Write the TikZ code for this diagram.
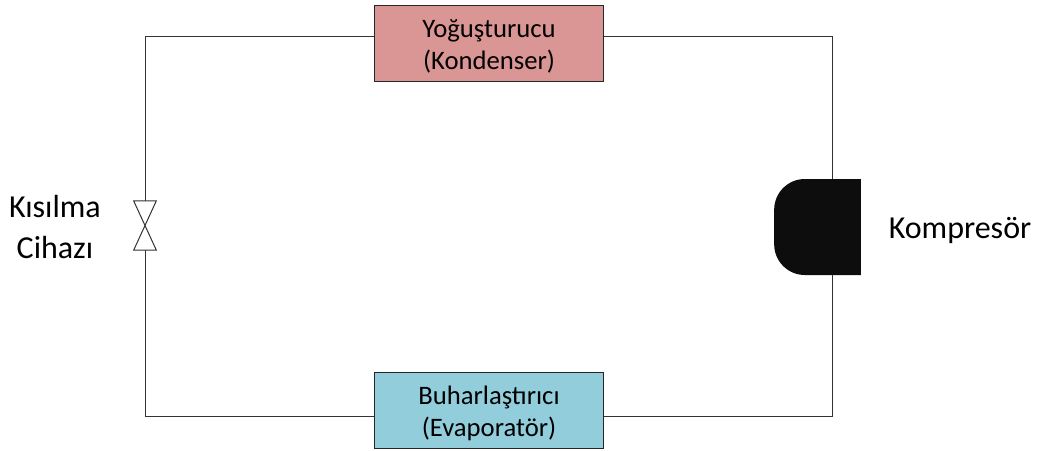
\documentclass[tikz,border=0pt]{standalone}
\usepackage{fontspec}
\setmainfont{Carlito}
\usetikzlibrary{positioning}
\usepackage{xcolor}
\definecolor{condred}{HTML}{D99694}
\definecolor{evapblue}{HTML}{92CDDC}
\newcommand{\topgap}{\rule{0pt}{19pt}}

\begin{document}
\begin{tikzpicture}[
x=0.75pt, y=-0.75pt,
node distance=1cm,
box/.style={draw=black!85,
rectangle,
line width=0.75pt,
minimum width=172pt,
minimum height=57pt,
inner sep=0pt,
align=center,
font=\fontsize{20}{24}\selectfont},
label/.style={align=center, font=\fontsize{24}{31}\selectfont},
part/.style={inner sep=0pt, outer sep=0pt},
pipe/.style={line width=0.75pt, black!80} ]

\useasboundingbox (0,0) rectangle (1041,450);

\node[box, fill=condred] (cond) at (489,43) {\topgap Yoğuşturucu\\(Kondenser)};
\node[box, fill=evapblue, below=217.75pt of cond] (evap) {\topgap Buharlaştırıcı\\(Evaporatör)};
\node[part, minimum width=17pt, minimum height=37pt] (valve) at (145,225.5) {};
\node[part, minimum width=65pt, minimum height=72pt] (comp) at (817.5,227) {};

\node[label] (valve-text) at (55,227) {Kısılma\\Cihazı};
\node[label] (comp-text) at (960,230.5) {Kompresör};

\draw[pipe] ([yshift=5.25pt]cond.west) -| (valve.north);
\draw[pipe] ([yshift=-4.5pt]evap.west) -| (valve.south);
\draw[pipe] ([yshift=5.25pt]cond.east) -| ([xshift=10.9pt]comp.north);
\draw[pipe] ([yshift=-4.5pt]evap.east) -| ([xshift=10.9pt]comp.south);

\draw[pipe] (valve.north west) -- (valve.north east) -- (valve.south west) -- (valve.south east) -- cycle;

\fill[black!95] (comp.north east) [rounded corners=23pt] -- (comp.north west) -- (comp.south west) [sharp corners] -- (comp.south east) -- cycle;

\end{tikzpicture}
\end{document}
